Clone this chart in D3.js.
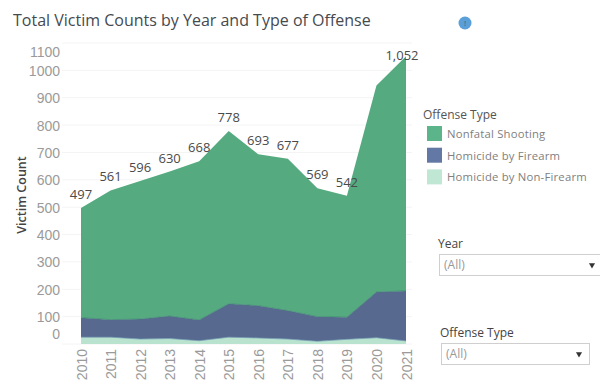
<!DOCTYPE html>
<html>
<head>
<meta charset="utf-8">
<script src="https://cdnjs.cloudflare.com/ajax/libs/d3/7.8.5/d3.min.js"></script>
<style>
  body { margin: 0; background: #fff; }
  text { font-family: "Open Sans", sans-serif; }
</style>
</head>
<body>
<div id="chart"></div>
<script>
const years = [2010, 2011, 2012, 2013, 2014, 2015, 2016, 2017, 2018, 2019, 2020, 2021];
const nonFirearm = [25, 25, 18, 20, 12, 25, 22, 18, 10, 17, 23, 11];
const firearm = [71, 64, 73, 82, 76, 122, 118, 104, 90, 81, 167, 183];
const nonfatal = [401, 472, 505, 528, 580, 631, 553, 555, 469, 444, 755, 858];
const totalLabels = ["497", "561", "596", "630", "668", "778", "693", "677", "569", "542", null, "1,052"];
const yTicks = [0, 100, 200, 300, 400, 500, 600, 700, 800, 900, 1000, 1100];
const legendNames = ["Nonfatal Shooting", "Homicide by Firearm", "Homicide by Non-Firearm"];

const color = {nonFirearm: "#b9e2cf", firearm: "#58698f", nonfatal: "#55aa7f"};
const legendColors = ["#5cb58a", "#6478a6", "#c0e6d4"];

const svg = d3.select("#chart")
  .append("svg")
    .attr("width", 600)
    .attr("height", 388);

const x = d3.scaleLinear()
    .domain([2010, 2021])
    .range([81, 406]);
const y = d3.scaleLinear()
    .domain([0, 1100])
    .range([344, 43]);

// Gridlines and left axis
svg.append("g")
    .attr("transform", "translate(66, 0)")
    .call(d3.axisLeft(y).tickValues(yTicks).tickFormat(d3.format("d")).tickSize(0).tickPadding(6))
    .call(g => g.select(".domain").remove())
    .call(g => g.selectAll("text")
      .style("font-family", "'Liberation Sans', sans-serif")
      .style("font-size", "14px")
      .attr("fill", "#9a9a9a")
      // the end labels sit inside the plot, as in the original
      .attr("dy", d => d == 1100 ? 13 : d == 0 ? -6 : 5));

svg.append("g")
  .selectAll("line")
  .data(yTicks)
  .join("line")
    .attr("x1", 62)
    .attr("x2", 412)
    .attr("y1", d => y(d))
    .attr("y2", d => y(d))
    .attr("stroke", "#f4f4f4");

// Stacked areas
const rows = years.map((year, i) => ({
  year: year,
  nonFirearm: nonFirearm[i],
  firearm: firearm[i],
  nonfatal: nonfatal[i]
}));
const stacked = d3.stack().keys(["nonFirearm", "firearm", "nonfatal"])(rows);

const area = d3.area()
    .x(d => x(d.data.year))
    .y0(d => y(d[0]))
    .y1(d => y(d[1]));

svg.append("g")
  .selectAll("path")
  .data(stacked)
  .join("path")
    .attr("fill", d => color[d.key])
    .attr("d", area);

// Darker edge along the top of the two lower bands
const edge = d3.line()
    .x(d => x(d.data.year))
    .y(d => y(d[1]));
svg.append("g")
  .selectAll("path")
  .data(stacked.slice(0, 2))
  .join("path")
    .attr("fill", "none")
    .attr("stroke", (d, i) => i == 0 ? "#6d9db0" : "#3f7f75")
    .attr("stroke-width", 1)
    .attr("stroke-opacity", 0.7)
    .attr("d", edge);

// Total labels
svg.append("g")
  .selectAll("text")
  .data(years.filter((d, i) => totalLabels[i]))
  .join("text")
    .attr("text-anchor", "middle")
    .attr("font-size", "13px")
    .attr("font-weight", 500)
    .attr("fill", "#4a4a4a")
    .attr("x", d => x(d) + (d == 2021 ? -4 : 0))
    .attr("y", d => {
      const i = years.indexOf(d);
      const total = nonFirearm[i] + firearm[i] + nonfatal[i];
      return y(total) + (d == 2021 ? 4 : -9);
    })
    .text(d => totalLabels[years.indexOf(d)]);

// Bottom axis
svg.append("g")
    .attr("transform", "translate(0, 346)")
    .call(d3.axisBottom(x).tickValues(years).tickFormat(d3.format("d")).tickSize(0))
    .call(g => g.select(".domain").remove())
    .call(g => g.selectAll("text")
      .style("font-family", "'Liberation Sans', sans-serif")
      .style("font-size", "14px")
      .attr("fill", "#9a9a9a")
      .attr("text-anchor", "end")
      .attr("transform", "rotate(-90)")
      .attr("x", -3)
      .attr("y", 0)
      .attr("dy", "0.36em"));

// Titles
svg.append("text")
    .attr("x", 13)
    .attr("y", 26)
    .attr("font-size", "16px")
    .attr("fill", "#454a4f")
    .text("Total Victim Counts by Year and Type of Offense");

svg.append("text")
    .attr("transform", "translate(26, 195) rotate(-90)")
    .attr("text-anchor", "middle")
    .attr("font-size", "12.5px")
    .attr("font-weight", 600)
    .attr("fill", "#444")
    .text("Victim Count");

// Info badge
svg.append("circle")
    .attr("cx", 465)
    .attr("cy", 23)
    .attr("r", 6.5)
    .attr("fill", "#5b9fd8");
svg.append("text")
    .attr("x", 465)
    .attr("y", 26)
    .attr("text-anchor", "middle")
    .attr("font-size", "8px")
    .attr("fill", "#2f5f86")
    .text("!");

// Legend
svg.append("text")
    .attr("x", 423)
    .attr("y", 119)
    .attr("font-size", "12px")
    .attr("fill", "#555")
    .text("Offense Type");

const legend = svg.append("g")
  .selectAll("g")
  .data(legendNames)
  .join("g")
    .attr("transform", (d, i) => `translate(427, ${126 + i * 21.7})`);
legend.append("rect")
    .attr("width", 15)
    .attr("height", 15)
    .attr("fill", (d, i) => legendColors[i]);
legend.append("text")
    .attr("x", 20)
    .attr("y", 12)
    .attr("font-size", "11.3px")
    .attr("letter-spacing", "0.2px")
    .attr("fill", "#808080")
    .text(d => d);

// Filter boxes
function filterBox(label, labelX, labelY, boxX, boxY, boxW, arrowX) {
  svg.append("text")
      .attr("x", labelX)
      .attr("y", labelY)
      .attr("font-size", "12px")
      .attr("fill", "#444")
      .text(label);
  svg.append("rect")
      .attr("x", boxX + 0.5)
      .attr("y", boxY + 0.5)
      .attr("width", boxW)
      .attr("height", 21)
      .attr("fill", "#fff")
      .attr("stroke", "#cfcfcf");
  svg.append("text")
      .attr("x", boxX + 5)
      .attr("y", boxY + 15)
      .attr("font-size", "12px")
      .attr("fill", "#999")
      .text("(All)");
  svg.append("path")
      .attr("d", d3.symbol().type(d3.symbolTriangle).size(16))
      .attr("transform", `translate(${arrowX}, ${boxY + 11}) rotate(180)`)
      .attr("fill", "#333");
}
filterBox("Year", 438, 248, 439, 254, 170, 592);
filterBox("Offense Type", 440, 337, 441, 343, 148, 579);
</script>
</body>
</html>
